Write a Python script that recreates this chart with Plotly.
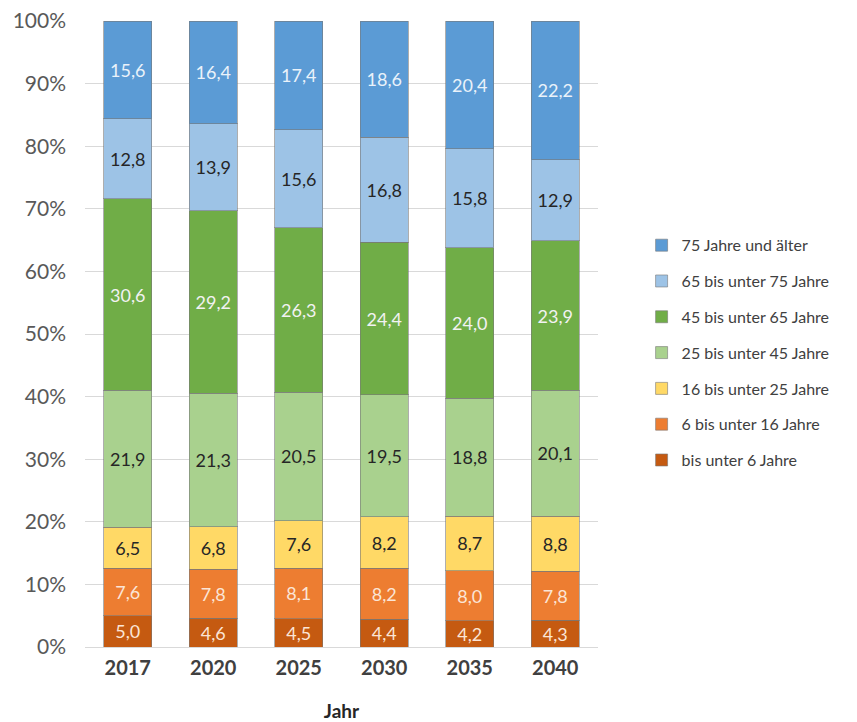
import plotly.graph_objects as go

years = ["2017", "2020", "2025", "2030", "2035", "2040"]
series_names = ["bis unter 6 Jahre", "6 bis unter 16 Jahre", "16 bis unter 25 Jahre",
                "25 bis unter 45 Jahre", "45 bis unter 65 Jahre", "65 bis unter 75 Jahre",
                "75 Jahre und älter"]
u6 = [5.0, 4.6, 4.5, 4.4, 4.2, 4.3]
b6_16 = [7.6, 7.8, 8.1, 8.2, 8.0, 7.8]
b16_25 = [6.5, 6.8, 7.6, 8.2, 8.7, 8.8]
b25_45 = [21.9, 21.3, 20.5, 19.5, 18.8, 20.1]
b45_65 = [30.6, 29.2, 26.3, 24.4, 24.0, 23.9]
b65_75 = [12.8, 13.9, 15.6, 16.8, 15.8, 12.9]
o75 = [15.6, 16.4, 17.4, 18.6, 20.4, 22.2]
series_values = [u6, b6_16, b16_25, b25_45, b45_65, b65_75, o75]
y_ticks = [0, 10, 20, 30, 40, 50, 60, 70, 80, 90, 100]
y_tick_labels = [f"{t}%" for t in y_ticks]

colors = ["#C55A11", "#ED7D31", "#FFD966", "#A9D18E", "#70AD47", "#9DC3E6", "#5B9BD5"]
text_colors = ["#FBE5D6", "#FBE5D6", "#262626", "#262626", "#F2F2F2", "#262626", "#EAF2FA"]

FONT = "Lato, Calibri, Carlito, sans-serif"

fig = go.Figure()
n = len(series_names)
for i, (name, vals, c, tc) in enumerate(zip(series_names, series_values, colors, text_colors)):
    fig.add_trace(go.Bar(
        x=years, y=vals, name=name, legendgroup=name, legendrank=n - i,
        marker=dict(color=c, line=dict(color="rgba(120,120,120,0.6)", width=1)),
        text=[f"{v:.1f}".replace(".", ",") for v in vals],
        textposition="inside", insidetextanchor="middle",
        textfont=dict(family=FONT, size=18, color=tc),
        constraintext="none",
        hoverinfo="skip",
    ))

fig.update_layout(
    barmode="stack", barnorm="percent", bargap=0.44,
    width=857, height=722,
    margin=dict(l=85, r=259, t=21, b=75),
    paper_bgcolor="white", plot_bgcolor="white",
    font=dict(family=FONT, color="#595959"),
    legend=dict(
        traceorder="grouped", x=1.085, xanchor="left", y=0.47, yanchor="middle",
        font=dict(family=FONT, size=16, color="#404040"),
        tracegroupgap=12, itemwidth=30,
    ),
    xaxis=dict(
        title=dict(text="<b>Jahr</b>", font=dict(family=FONT, size=19, color="#262626"), standoff=27),
        tickfont=dict(family=FONT, size=20, color="#404040"),
        tickvals=years, ticktext=[f"<b>{y}</b>" for y in years],
        showline=False, ticks="", ticklabelstandoff=7, automargin=False,
    ),
    yaxis=dict(
        range=[0, 100], tickmode="array", tickvals=y_ticks, ticktext=y_tick_labels,
        tickfont=dict(family=FONT, size=21, color="#595959"),
        showgrid=True, gridcolor="#D9D9D9", gridwidth=1,
        zeroline=True, zerolinecolor="#D9D9D9", zerolinewidth=1,
        ticks="", ticklabelstandoff=18, automargin=False,
    ),
)

fig.write_html("out.html")
